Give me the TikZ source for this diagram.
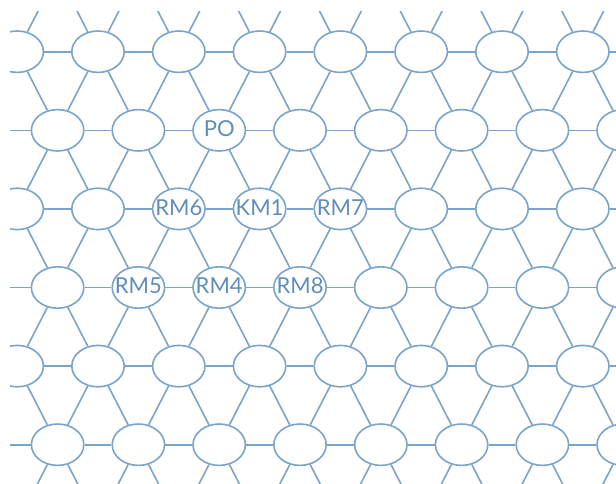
\documentclass[tikz,border=0pt]{standalone}
\usepackage{fontspec}
\setmainfont{Lato}
\usetikzlibrary{shapes.geometric}
\definecolor{lineblue}{RGB}{122,164,201}
\definecolor{textblue}{RGB}{95,142,186}
\tikzset{
  cell/.style={ellipse, draw=lineblue, line width=1.6pt, minimum width=52.4pt, minimum height=41.4pt, inner sep=0pt, fill=white},
  link/.style={draw=lineblue, line width=1.6pt},
  tag/.style={text=textblue, font=\fontsize{22}{24}\selectfont, inner sep=0pt, yshift=1.5pt},
}
\begin{document}
\begin{tikzpicture}[x=1pt,y=-1pt]
\useasboundingbox (0,0) rectangle (616,483);
\fill[white] (0,0) rectangle (616,483);
\begin{scope}
\clip (10,11) rectangle (616,483);
% lattice positions: real ellipses in rows 1..6, columns 0..7; virtual coordinates around
\foreach \r in {0,...,7} {
  \foreach \k in {-1,...,8} {
    \ifodd\r\relax \def\xo{17.2}\else\def\xo{57.6}\fi
    \pgfmathsetmacro\xx{\xo+80.8*\k}
    \pgfmathsetmacro\yy{51.7+78.6*(\r-1)}
    \pgfmathtruncatemacro\isreal{(\r>0)&&(\r<7)&&(\k>-1)&&(\k<8)}
    \ifnum\isreal=1\relax
      \node[cell] (n\r-\k) at (\xx,\yy) {};
    \else
      \coordinate (n\r-\k) at (\xx,\yy);
    \fi
  }
}
% horizontal connectors
\foreach \r in {1,...,6} {
  \foreach \k in {-1,...,7} {
    \pgfmathtruncatemacro\kn{\k+1}
    \draw[link] (n\r-\k) -- (n\r-\kn);
  }
}
% diagonal connectors
\foreach \r in {0,...,6} {
  \pgfmathtruncatemacro\rn{\r+1}
  \foreach \k in {-1,...,8} {
    \ifodd\r\relax
      \pgfmathtruncatemacro\ka{\k-1}\pgfmathtruncatemacro\kb{\k}
    \else
      \pgfmathtruncatemacro\ka{\k}\pgfmathtruncatemacro\kb{\k+1}
    \fi
    \ifnum\ka>-2\relax \draw[link] (n\r-\k) -- (n\rn-\ka); \fi
    \ifnum\kb<9\relax \draw[link] (n\r-\k) -- (n\rn-\kb); \fi
  }
}
\end{scope}
% labels
\node[tag] (t-po)  at (n2-2) {PO};
\node[tag] (t-rm6) at (n3-2) {RM6};
\node[tag] (t-km1) at (n3-3) {KM1};
\node[tag] (t-rm7) at (n3-4) {RM7};
\node[tag] (t-rm5) at (n4-1) {RM5};
\node[tag] (t-rm4) at (n4-2) {RM4};
\node[tag] (t-rm8) at (n4-3) {RM8};
\end{tikzpicture}
\end{document}
